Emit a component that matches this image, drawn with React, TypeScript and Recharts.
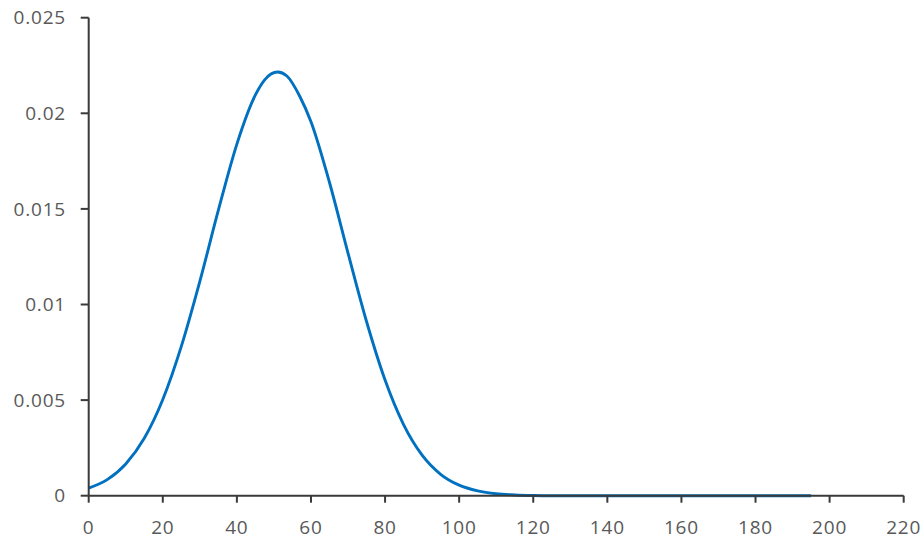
import { CartesianGrid, Line, LineChart, XAxis, YAxis } from "recharts";

// values
const xValues = [
  0, 5, 10, 15, 20, 25, 30, 35, 40, 45, 47.5, 51, 53.5, 57, 60, 65, 70, 75, 80, 85, 90, 95, 100,
  105, 110, 115, 120, 125, 130, 140, 150, 160, 170, 180, 190, 195,
];
const density = [
  0.0004, 0.00084, 0.00166, 0.003, 0.00503, 0.00781, 0.01121, 0.01493, 0.01839, 0.02096,
  0.02175, 0.02216, 0.02195, 0.02088, 0.01956, 0.01638, 0.01269, 0.00911, 0.00605, 0.00372,
  0.00212, 0.00112, 0.00055, 0.00025, 0.0001, 0.00004, 0.00001, 0, 0, 0, 0, 0, 0, 0, 0, 0,
];
const xTicks = [0, 20, 40, 60, 80, 100, 120, 140, 160, 180, 200, 220];
const yTicks = [0, 0.005, 0.01, 0.015, 0.02, 0.025];

const data = xValues.map((x, i) => ({ x, y: density[i] }));

const tickStyle = {
  fill: "#595959",
  fontSize: 19,
  fontFamily: "'Open Sans', sans-serif",
  letterSpacing: 0.8,
};

export default function App() {
  return (
    <div style={{ position: "absolute", left: 0, top: 0, background: "#fff" }}>
      <LineChart width={924} height={546} data={data} margin={{ top: 17.7, right: 20.3, left: 0, bottom: 0 }}>
        <CartesianGrid stroke="none" />
        <XAxis
          type="number"
          dataKey="x"
          domain={[0, 220]}
          ticks={xTicks}
          interval={0}
          height={50.3}
          tick={tickStyle}
          tickSize={7}
          tickMargin={18}
          axisLine={{ stroke: "#3a3a3a", strokeWidth: 2 }}
          tickLine={{ stroke: "#3a3a3a", strokeWidth: 2 }}
        />
        <YAxis
          type="number"
          domain={[0, 0.025]}
          ticks={yTicks}
          interval={0}
          width={88.7}
          tick={tickStyle}
          tickSize={8}
          tickMargin={14.7}
          axisLine={{ stroke: "#3a3a3a", strokeWidth: 2 }}
          tickLine={{ stroke: "#3a3a3a", strokeWidth: 2 }}
          tickFormatter={(v: number) => String(v)}
        />
        <Line
          type="monotone"
          dataKey="y"
          stroke="#0070C0"
          strokeWidth={2.9}
          dot={false}
          isAnimationActive={false}
        />
      </LineChart>
    </div>
  );
}
